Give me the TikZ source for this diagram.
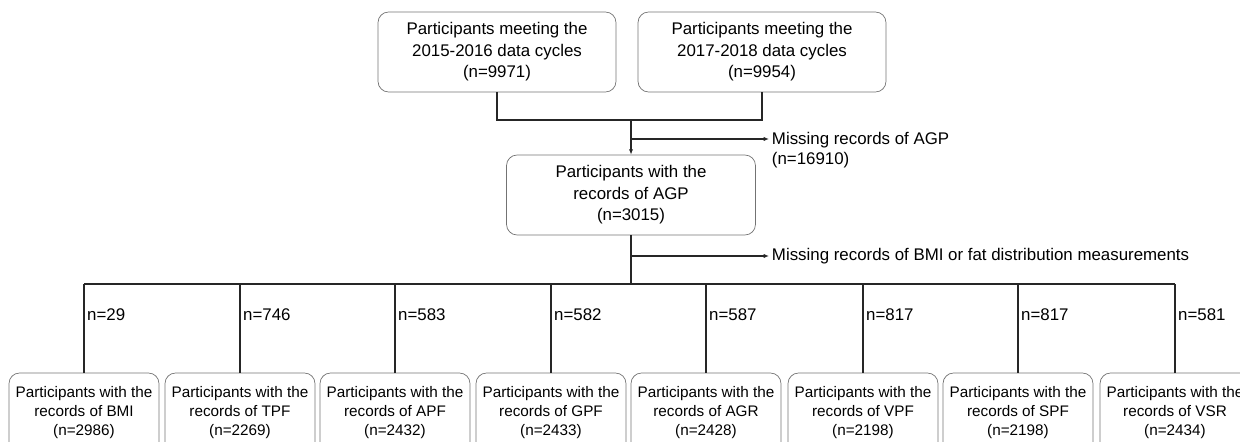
\documentclass[tikz,border=0pt]{standalone}
\usepackage{fontspec}
\setmainfont{Liberation Sans}
\usetikzlibrary{arrows.meta,positioning}

\tikzset{
  cyclebox/.style={draw=black!55, rounded corners=6pt, align=center, inner sep=0pt,
    minimum height=1.6cm, font=\fontsize{9.6}{12.2}\selectfont},
  recbox/.style={draw=black!55, rounded corners=6pt, align=center, inner sep=0pt,
    minimum width=3cm, minimum height=1.6cm, font=\fontsize{8.7}{10.8}\selectfont},
  flow/.style={draw=black!85, line width=0.6pt},
  exclude/.style={flow, -{Latex[length=3pt,width=2.4pt]}},
  countlbl/.style={anchor=west, inner sep=1.5pt, font=\fontsize{9.6}{11.4}\selectfont}
}

\begin{document}
\begin{tikzpicture}[x=0.02cm, y=-0.02cm]
\useasboundingbox (0,0) rectangle (1240,442);

\node[cyclebox, minimum width=4.76cm] (c1516) at (497,52)
  {Participants meeting the\\2015-2016 data cycles\\(n=9971)};
\node[cyclebox, minimum width=4.96cm] (c1718) at (762,52)
  {Participants meeting the\\2017-2018 data cycles\\(n=9954)};
\coordinate (merge) at (631,120);
\draw[flow] (c1516.south) |- (merge) -| (c1718.south);

\node[cyclebox, minimum width=4.98cm] (agp) at (631,195)
  {Participants with the\\records of AGP\\(n=3015)};
\draw[exclude] (merge) -- (agp.north);
\coordinate (agpcut) at (631,139);
\node[countlbl, anchor=north west, align=left] (agpmiss) at (769,129)
  {Missing records of AGP\\(n=16910)};
\draw[exclude] (agpcut) -- (agpcut -| agpmiss.west);

\coordinate (split) at (631,284);
\draw[flow] (agp.south) -- (split);
\coordinate (fatcut) at (631,256);
\node[countlbl] (fatmiss) at (769,256)
  {Missing records of BMI or fat distribution measurements};
\draw[exclude] (fatcut) -- (fatmiss.west);

\node[recbox] (bmi) at (84,413) {Participants with the\\records of BMI\\(n=2986)};
\node[recbox] (tpf) at (240,413) {Participants with the\\records of TPF\\(n=2269)};
\node[recbox] (apf) at (395,413) {Participants with the\\records of APF\\(n=2432)};
\node[recbox] (gpf) at (551,413) {Participants with the\\records of GPF\\(n=2433)};
\node[recbox] (agr) at (706,413) {Participants with the\\records of AGR\\(n=2428)};
\node[recbox] (vpf) at (863,413) {Participants with the\\records of VPF\\(n=2198)};
\node[recbox] (spf) at (1018,413) {Participants with the\\records of SPF\\(n=2198)};
\node[recbox] (vsr) at (1175,413) {Participants with the\\records of VSR\\(n=2434)};

\draw[flow] (bmi.north |- split) -- (vsr.north |- split);
\draw[flow] (bmi.north) -- node[countlbl, pos=0.65] {n=29} (bmi.north |- split);
\draw[flow] (tpf.north) -- node[countlbl, pos=0.65] {n=746} (tpf.north |- split);
\draw[flow] (apf.north) -- node[countlbl, pos=0.65] {n=583} (apf.north |- split);
\draw[flow] (gpf.north) -- node[countlbl, pos=0.65] {n=582} (gpf.north |- split);
\draw[flow] (agr.north) -- node[countlbl, pos=0.65] {n=587} (agr.north |- split);
\draw[flow] (vpf.north) -- node[countlbl, pos=0.65] {n=817} (vpf.north |- split);
\draw[flow] (spf.north) -- node[countlbl, pos=0.65] {n=817} (spf.north |- split);
\draw[flow] (vsr.north) -- node[countlbl, pos=0.65] {n=581} (vsr.north |- split);
\end{tikzpicture}
\end{document}
